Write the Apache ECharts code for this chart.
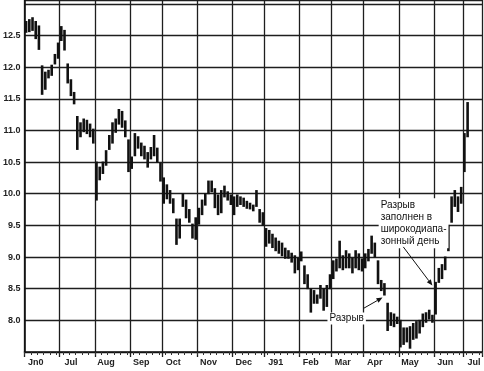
<!DOCTYPE html>
<html><head><meta charset="utf-8">
<script src="https://cdn.jsdelivr.net/npm/echarts@6/dist/echarts.min.js"></script>
<style>html,body{margin:0;padding:0;background:#fff}#c{width:484px;height:371px}</style>
</head><body><div id="c"></div>
<script>
// Month labels along the time axis and number of bars drawn per month
const months = ['Jn0','Jul','Aug','Sep','Oct','Nov','Dec','J91','Feb','Mar','Apr','May','Jun','Jul'];
const barsPerMonth = [11,11,11,10,11,11,10,11,10,10,11,11,9,6];

// Price bars: lows and highs
const lows = [
  12.55,12.56,12.58,12.45,12.28,11.57,11.65,11.83,11.87,12.05,12.14,   // Jun 90
  12.42,12.27,11.75,11.55,11.42,10.70,10.90,10.98,10.95,10.90,10.80,   // Jul
  9.90,10.22,10.32,10.45,10.70,10.80,10.97,11.10,11.05,10.90,10.35,    // Aug
  10.40,10.60,10.72,10.60,10.55,10.42,10.55,10.60,10.50,10.20,         // Sep
  9.85,9.92,9.85,9.70,9.20,9.30,9.80,9.62,9.55,9.30,9.28,              // Oct
  9.52,9.67,9.82,10.00,10.03,9.78,9.67,9.70,9.95,9.90,9.83,            // Nov
  9.67,9.80,9.83,9.80,9.77,9.76,9.73,9.80,9.55,9.50,                   // Dec
  9.17,9.22,9.15,9.10,9.06,9.02,8.98,8.98,8.92,8.75,8.80,              // Jan 91
  8.94,8.58,8.50,8.13,8.27,8.27,8.35,8.16,8.22,8.50,                   // Feb
  8.66,8.78,8.83,8.80,8.83,8.83,8.75,8.83,8.80,8.78,                   // Mar
  8.83,8.94,9.06,9.00,8.58,8.47,8.40,7.84,7.92,7.90,7.95,              // Apr
  7.58,7.62,7.66,7.56,7.70,7.72,7.80,7.90,7.97,8.02,7.97,              // May
  8.10,8.60,8.66,8.80,9.10,9.55,9.80,9.72,9.85,                        // Jun
  10.35,10.90                                                          // Jul
];
const highs = [
  12.72,12.75,12.78,12.72,12.65,12.02,11.92,11.95,12.03,12.20,12.38,
  12.64,12.58,12.05,11.80,11.60,11.22,11.12,11.18,11.16,11.10,11.02,
  10.50,10.42,10.50,10.68,10.92,11.12,11.18,11.33,11.30,11.15,10.85,
  10.58,10.95,10.90,10.80,10.75,10.65,10.73,10.92,10.72,10.48,
  10.25,10.14,10.05,9.92,9.60,9.60,10.00,9.90,9.75,9.52,9.62,
  9.77,9.90,10.00,10.20,10.20,10.08,9.98,10.05,10.12,10.03,9.98,
  9.95,9.98,9.95,9.93,9.88,9.85,9.82,10.05,9.75,9.70,
  9.45,9.42,9.36,9.30,9.25,9.22,9.14,9.10,9.06,9.02,8.98,
  9.08,8.86,8.72,8.50,8.47,8.40,8.55,8.50,8.55,8.72,
  8.94,8.97,9.25,9.02,9.10,9.05,8.98,9.10,9.05,8.97,
  9.05,9.12,9.33,9.22,8.94,8.63,8.58,8.27,8.12,8.10,8.05,
  8.00,7.88,7.88,7.90,7.95,7.98,8.00,8.10,8.12,8.16,8.08,
  8.60,8.82,8.88,9.00,9.50,9.95,10.05,9.95,10.10,
  10.95,11.44
];

// Annotations anchored in data coordinates: [category index, price]
const gapLabel = {text:'Разрыв', at:[100.2, 8.03]};
const gapArrow = {from:[105.5, 8.19], to:[111.4, 8.36]};
const fillLabel = {text:'Разрыв\nзаполнен в\nширокодиапа-\nзонный день', at:[110.2, 9.93]};
const fillArrow = {from:[117.9, 9.16], to:[127.0, 8.55]};

const cats = [], monthStart = new Set(), labelIdx = new Set();
months.forEach((m,k)=>{
  monthStart.add(cats.length);
  labelIdx.add(cats.length + 3);
  for (let j=0;j<barsPerMonth[k];j++) cats.push(m+'|'+j);
});
const data = lows.map((lo,i)=>[i, lo, highs[i]]);

const chart = echarts.init(document.getElementById('c'), null, {renderer:'canvas'});
const FONT = 'Liberation Sans, Arial, sans-serif';
const gridColor = '#1e1e1e';
chart.setOption({
  backgroundColor:'#fff',
  animation:false,
  grid:{left:22, right:2, top:-3, bottom:19, containLabel:false},
  xAxis:[{
    type:'category', data:cats, boundaryGap:true,
    axisLine:{onZero:false, lineStyle:{color:'#111', width:1.6}},
    axisTick:{show:true, interval:(i)=>monthStart.has(i), length:5, lineStyle:{color:gridColor, width:1.3}},
    splitLine:{show:true, interval:(i)=>monthStart.has(i), lineStyle:{color:gridColor, width:1.3}},
    axisLabel:{interval:(i)=>labelIdx.has(i), formatter:(v)=>v.split('|')[0], fontSize:9, fontWeight:'bold',
      color:'#222', margin:6, fontFamily:FONT}
  },{
    type:'category', data:cats, boundaryGap:true, position:'bottom',
    axisLine:{show:false, onZero:false},
    axisTick:{show:true, interval:(i)=>i%2===0, length:3, lineStyle:{color:'#333', width:1}},
    axisLabel:{show:false}, splitLine:{show:false}
  }],
  yAxis:{
    type:'value', min:7.5, max:13.06, interval:0.5,
    axisLine:{show:true, lineStyle:{color:'#111', width:1.6}},
    axisTick:{show:false},
    splitLine:{show:true, lineStyle:{color:gridColor, width:1.3}},
    axisLabel:{formatter:(v)=>(v<=7.5||v>12.9)?'':v.toFixed(1), fontSize:9, fontWeight:'bold',
      color:'#222', margin:4, fontFamily:FONT}
  },
  series:[{
    type:'custom', xAxisIndex:0, yAxisIndex:0, data:data, encode:{x:0, y:[1,2]},
    renderItem:(params, api)=>{
      const i = api.value(0), lo = api.value(1), hi = api.value(2);
      if (isNaN(lo) || isNaN(hi)) return;
      const a = api.coord([i, lo]), b = api.coord([i, hi]);
      return {type:'line', shape:{x1:a[0], y1:a[1]+0.5, x2:b[0], y2:b[1]-0.5},
        style:{stroke:'#111', lineWidth:2.6}};
    }
  }]
});

function toPx(pt){
  const n = cats.length - 1;
  const a = chart.convertToPixel({xAxisIndex:0, yAxisIndex:0}, [0, pt[1]]);
  const b = chart.convertToPixel({xAxisIndex:0, yAxisIndex:0}, [n, pt[1]]);
  return [a[0] + (b[0]-a[0]) * pt[0] / n, a[1]];
}
function arrow(def){
  const s = toPx(def.from), e = toPx(def.to);
  const ang = Math.atan2(e[1]-s[1], e[0]-s[0]);
  const L = 6, W = 2.5;
  const bx = e[0] - L*Math.cos(ang), by = e[1] - L*Math.sin(ang);
  const px = -Math.sin(ang)*W, py = Math.cos(ang)*W;
  return [
    {type:'line', shape:{x1:s[0], y1:s[1], x2:bx, y2:by}, style:{stroke:'#111', lineWidth:1}, z:100},
    {type:'polygon', shape:{points:[[e[0],e[1]],[bx+px,by+py],[bx-px,by-py]]}, style:{fill:'#111'}, z:100}
  ];
}
const g1 = toPx(gapLabel.at), g2 = toPx(fillLabel.at);
chart.setOption({graphic:[
  {type:'text', x:g1[0], y:g1[1], z:100, style:{text:gapLabel.text, fill:'#111', font:'10px '+FONT,
    align:'center', verticalAlign:'middle', backgroundColor:'#fff', padding:[1,2]}},
  {type:'text', x:g2[0], y:g2[1], z:100, style:{text:fillLabel.text, fill:'#111', font:'10px '+FONT,
    align:'left', verticalAlign:'top', lineHeight:12, backgroundColor:'#fff', padding:[1,2]}},
  ...arrow(gapArrow), ...arrow(fillArrow)
]});
</script></body></html>
